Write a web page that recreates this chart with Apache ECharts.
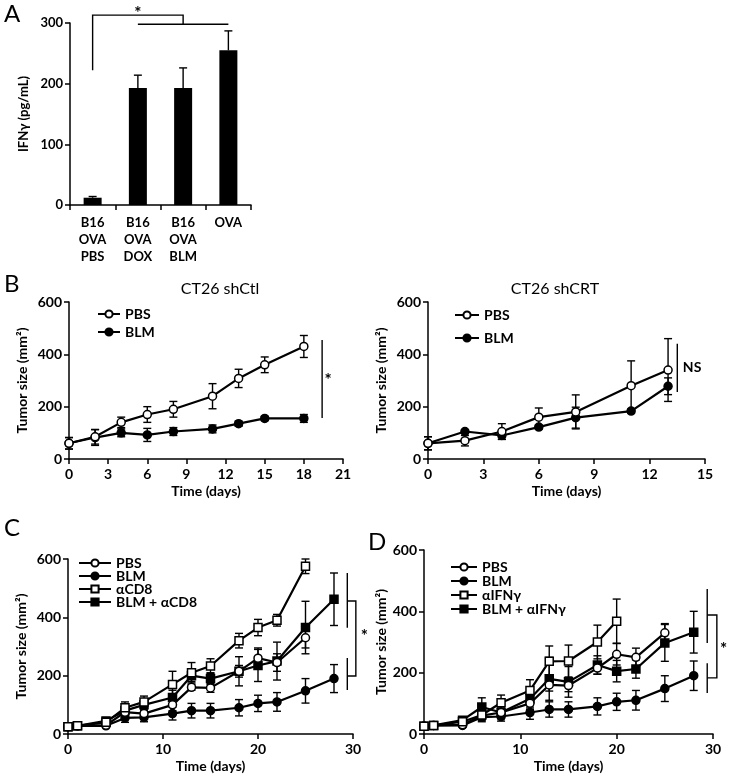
<!DOCTYPE html>
<html><head><meta charset="utf-8">
<script src="https://cdn.jsdelivr.net/npm/echarts@6/dist/echarts.min.js"></script>
<style>html,body{margin:0;padding:0;background:#fff}#c{width:731px;height:778px}</style>
</head><body><div id="c"></div>
<script>
// ---- Panel A ----
const aCats = ['B16\nOVA\nPBS','B16\nOVA\nDOX','B16\nOVA\nBLM','OVA'];
const aVals = [12,193,193,255];
const aErr = [2,21,33,32];
// ---- Panel B (shCtl) ----
const bCtlDays = [0,2,4,6,8,11,13,15,18];
const bCtlPBS = [60,85,140,170,190,240,308,360,430];
const bCtlPBSErr = [22,28,20,30,30,48,35,30,42];
const bCtlBLM = [60,82,100,92,105,115,135,155,155];
const bCtlBLMErr = [22,30,15,25,15,15,10,8,15];
// ---- Panel B (shCRT) ----
const bCrtDays = [0,2,4,6,8,11,13];
const bCrtPBS = [60,70,105,160,180,280,340];
const bCrtPBSErr = [25,20,30,35,65,95,120];
const bCrtBLM = [60,105,90,122,158,183,278];
const bCrtBLMErr = [25,5,15,8,40,8,32];
// ---- Panels C / D ----
const cdDays = [0,1,4,6,8,11,13,15,18,20,22,25,28];
const cPBS = [25,28,30,75,70,100,160,158,215,260,245,330];
const cPBSErr = [5,5,5,15,15,20,10,15,20,35,30,35];
const cBLM = [25,28,28,55,57,70,80,80,90,105,110,148,190];
const cBLMErr = [5,5,5,15,15,22,25,25,28,28,32,42,48];
const cCD8 = [25,28,40,90,110,170,210,233,320,365,390,575];
const cCD8Err = [5,5,8,20,20,45,35,25,25,28,20,25];
const cBLMCD8 = [25,28,45,80,100,125,200,190,215,235,250,365,462];
const cBLMCD8Err = [5,5,8,15,20,25,20,20,50,55,65,90,90];
const dPBS = [25,28,30,60,70,100,160,158,215,260,250,330];
const dPBSErr = [5,5,5,15,15,20,20,20,20,35,30,30];
const dBLM = [25,28,28,55,57,70,80,80,90,105,110,148,190];
const dBLMErr = [5,5,5,15,15,22,25,25,28,28,32,42,48];
const dIFN = [25,28,40,62,102,142,237,238,300,368];
const dIFNErr = [5,5,8,15,25,35,50,52,55,72];
const dBLMIFN = [25,28,45,88,70,115,180,170,225,205,212,297,332];
const dBLMIFNErr = [5,5,8,30,20,30,70,50,30,35,30,60,68];
// ---- significance annotations (data coords) ----
const aSig = {left:[0,222,0,313,2,313,2,298], bar:[1,298,3,298], star:[1,316]};
const bCtlSig = {line:[19.4,455,19.4,157], star:[19.85,300,'*']};
const bCrtSig = {line:[13.5,440,13.5,256], star:[14.3,351,'NS']};
const cSig = {lines:[[29.4,552,29.4,364],[29.4,261,29.4,151]], bracket:[29.4,456,30.3,456,30.3,199,29.4,199], star:[31.2,335,'*']};
const dSig = {lines:[[29.4,473,29.4,297],[29.4,231,29.4,134]], bracket:[29.4,388,30.4,388,30.4,183,29.4,183], star:[31.1,275,'*']};

const FONT = 'Lato';
const chart = echarts.init(document.getElementById('c'));

function errSeries(xi, xs, vals, errs, oneSided){
  return {
    type:'custom', xAxisIndex:xi, yAxisIndex:xi, z:2, silent:true,
    encode:{x:0,y:[1,2]},
    data: vals.map((v,i)=>[xs[i], oneSided? v : v-errs[i], v+errs[i]]),
    renderItem:(p,api)=>{
      const lo = api.coord([api.value(0), api.value(1)]);
      const hi = api.coord([api.value(0), api.value(2)]);
      const w = 4, st = {stroke:'#000', lineWidth:1.4};
      const ch = [
        {type:'line', shape:{x1:lo[0],y1:lo[1],x2:hi[0],y2:hi[1]}, style:st},
        {type:'line', shape:{x1:hi[0]-w,y1:hi[1],x2:hi[0]+w,y2:hi[1]}, style:st}
      ];
      if(!oneSided) ch.push({type:'line', shape:{x1:lo[0]-w,y1:lo[1],x2:lo[0]+w,y2:lo[1]}, style:st});
      return {type:'group', children:ch};
    }
  };
}
function lineSeries(name, xi, xs, vals, symbol, open){
  return {
    name, type:'line', xAxisIndex:xi, yAxisIndex:xi, z:3,
    data: vals.map((v,i)=>[xs[i], v]),
    symbol, symbolSize:8, showSymbol:true,
    lineStyle:{color:'#000', width:2.2},
    itemStyle:{color: open?'#fff':'#000', borderColor:'#000', borderWidth:1.5},
    emphasis:{disabled:true}
  };
}
function sigSeries(xi, sig){
  return {
    type:'custom', xAxisIndex:xi, yAxisIndex:xi, z:4, silent:true, clip:false,
    data:[[0]],
    renderItem:(p,api)=>{
      const c = (x,y)=>api.coord([x,y]);
      const st = {stroke:'#000', lineWidth:1.4, fill:null};
      const ch = [];
      const poly = (arr)=>{ const pts=[]; for(let i=0;i<arr.length;i+=2) pts.push(c(arr[i],arr[i+1])); ch.push({type:'polyline', shape:{points:pts}, style:st}); };
      if(sig.left) poly(sig.left);
      if(sig.bar) poly(sig.bar);
      if(sig.line) poly(sig.line);
      if(sig.lines) sig.lines.forEach(poly);
      if(sig.bracket) poly(sig.bracket);
      const s = c(sig.star[0], sig.star[1]);
      const txt = sig.star[2]||'*';
      ch.push({type:'text', x:s[0], y:s[1], style:{text: txt, fontFamily:FONT, fontSize: txt==='*'?17:14, fontWeight:'bold', fill:'#000', align:'center', verticalAlign:'middle'}});
      return {type:'group', children:ch};
    }
  };
}
const axLine = {show:true, lineStyle:{color:'#000', width:1.5}};
const axTick = {show:true, inside:false, length:5, lineStyle:{color:'#000', width:1.5}};
const tickFont = {color:'#000', fontFamily:FONT, fontSize:14, fontWeight:'bold'};
const nameFont = {color:'#000', fontFamily:FONT, fontSize:14, fontWeight:'bold'};
function valX(gi, max, interval){
  return {gridIndex:gi, type:'value', min:0, max, interval, axisLine:axLine, axisTick:axTick, splitLine:{show:false},
    axisLabel:Object.assign({margin:8}, tickFont),
    name:'Time (days)', nameLocation:'middle', nameGap:25, nameTextStyle:nameFont};
}
function valY(gi, gap){
  return {gridIndex:gi, type:'value', min:0, max:600, interval:200, axisLine:axLine, axisTick:axTick, splitLine:{show:false},
    axisLabel:Object.assign({margin:7}, tickFont),
    name:'Tumor size (mm²)', nameLocation:'middle', nameRotate:90, nameGap:gap, nameTextStyle:nameFont};
}
const legText = {color:'#000', fontFamily:FONT, fontSize:14, fontWeight:'bold'};

const option = {
  animation:false,
  backgroundColor:'#fff',
  grid:[
    {left:70, top:23, width:181, height:182},
    {left:69, top:302, width:274, height:157},
    {left:428, top:302, width:277, height:157},
    {left:68, top:559, width:285, height:175},
    {left:424, top:550, width:289, height:184}
  ],
  title:[
    {text:'CT26 shCtl', left:215, top:276, textAlign:'center', textStyle:{fontFamily:FONT, fontSize:16, fontWeight:'normal', color:'#000'}},
    {text:'CT26 shCRT', left:550, top:276, textAlign:'center', textStyle:{fontFamily:FONT, fontSize:16, fontWeight:'normal', color:'#000'}}
  ],
  legend:[
    {data:['PBS','BLM'], left:92, top:302, orient:'vertical', itemWidth:22, itemHeight:9, itemGap:4, textStyle:legText, selectedMode:false},
    {data:['PBS','BLM'], left:449, top:303, orient:'vertical', itemWidth:24, itemHeight:9, itemGap:9, textStyle:legText, selectedMode:false},
    {data:['PBS','BLM','αCD8','BLM + αCD8'], left:73, top:551, orient:'vertical', itemWidth:32, itemHeight:9, itemGap:-1, textStyle:legText, selectedMode:false},
    {data:['PBS','BLM','αIFNγ','BLM + αIFNγ'], left:445, top:555, orient:'vertical', itemWidth:26, itemHeight:9, itemGap:0, textStyle:legText, selectedMode:false}
  ],
  xAxis:[
    {gridIndex:0, type:'category', data:aCats, axisLine:axLine, axisTick:{show:true, alignWithLabel:false, length:5, lineStyle:{color:'#000', width:1.5}},
      axisLabel:{color:'#000', fontFamily:FONT, fontSize:13, fontWeight:'bold', lineHeight:17, margin:9, interval:0}},
    valX(1, 21, 3),
    valX(2, 15, 3),
    valX(3, 30, 10),
    valX(4, 30, 10)
  ],
  yAxis:[
    {gridIndex:0, type:'value', min:0, max:300, interval:100, axisLine:axLine, axisTick:axTick, splitLine:{show:false},
      axisLabel:{color:'#000', fontFamily:FONT, fontSize:13, fontWeight:'bold', margin:7},
      name:'IFNγ (pg/mL)', nameLocation:'middle', nameRotate:90, nameGap:40, nameTextStyle:{color:'#000', fontFamily:FONT, fontSize:13, fontWeight:'bold'}},
    valY(1, 40), valY(2, 40), valY(3, 40), valY(4, 34)
  ],
  graphic:[
    {type:'text', left:4, top:2, style:{text:'A', fontFamily:FONT, fontSize:24, fill:'#000'}},
    {type:'text', left:4, top:272, style:{text:'B', fontFamily:FONT, fontSize:24, fill:'#000'}},
    {type:'text', left:4, top:516, style:{text:'C', fontFamily:FONT, fontSize:24, fill:'#000'}},
    {type:'text', left:368, top:530, style:{text:'D', fontFamily:FONT, fontSize:24, fill:'#000'}}
  ],
  series:[
    {type:'bar', xAxisIndex:0, yAxisIndex:0, data:aVals, barWidth:18, itemStyle:{color:'#000'}, z:2, silent:true},
    errSeries(0, [0,1,2,3], aVals, aErr, true),
    sigSeries(0, aSig),

    errSeries(1, bCtlDays, bCtlPBS, bCtlPBSErr),
    errSeries(1, bCtlDays, bCtlBLM, bCtlBLMErr),
    lineSeries('BLM', 1, bCtlDays, bCtlBLM, 'circle', false),
    lineSeries('PBS', 1, bCtlDays, bCtlPBS, 'circle', true),
    sigSeries(1, bCtlSig),

    errSeries(2, bCrtDays, bCrtPBS, bCrtPBSErr),
    errSeries(2, bCrtDays, bCrtBLM, bCrtBLMErr),
    lineSeries('BLM', 2, bCrtDays, bCrtBLM, 'circle', false),
    lineSeries('PBS', 2, bCrtDays, bCrtPBS, 'circle', true),
    sigSeries(2, bCrtSig),

    errSeries(3, cdDays, cPBS, cPBSErr),
    errSeries(3, cdDays, cBLM, cBLMErr),
    errSeries(3, cdDays, cCD8, cCD8Err),
    errSeries(3, cdDays, cBLMCD8, cBLMCD8Err),
    lineSeries('BLM', 3, cdDays, cBLM, 'circle', false),
    lineSeries('BLM + αCD8', 3, cdDays, cBLMCD8, 'rect', false),
    lineSeries('PBS', 3, cdDays, cPBS, 'circle', true),
    lineSeries('αCD8', 3, cdDays, cCD8, 'rect', true),
    sigSeries(3, cSig),

    errSeries(4, cdDays, dPBS, dPBSErr),
    errSeries(4, cdDays, dBLM, dBLMErr),
    errSeries(4, cdDays, dIFN, dIFNErr),
    errSeries(4, cdDays, dBLMIFN, dBLMIFNErr),
    lineSeries('BLM', 4, cdDays, dBLM, 'circle', false),
    lineSeries('BLM + αIFNγ', 4, cdDays, dBLMIFN, 'rect', false),
    lineSeries('PBS', 4, cdDays, dPBS, 'circle', true),
    lineSeries('αIFNγ', 4, cdDays, dIFN, 'rect', true),
    sigSeries(4, dSig)
  ]
};
chart.setOption(option);
</script></body></html>
